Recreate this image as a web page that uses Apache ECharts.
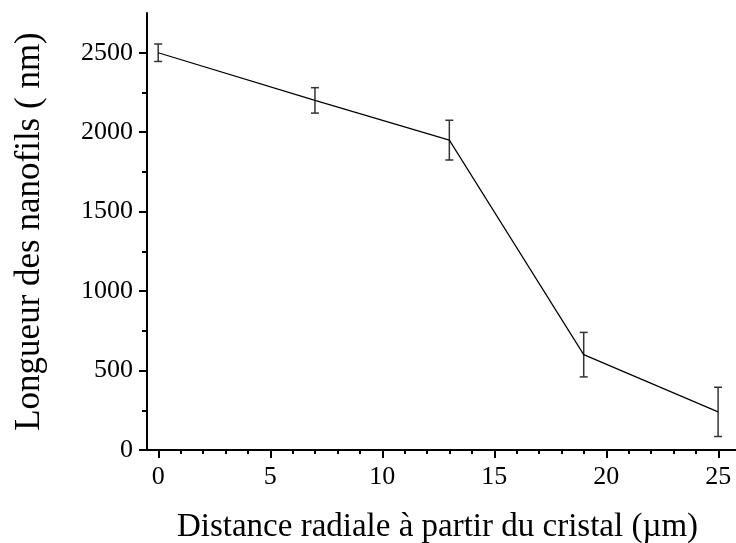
<!DOCTYPE html>
<html><head><meta charset="utf-8">
<script src="https://cdn.jsdelivr.net/npm/echarts@6/dist/echarts.min.js"></script>
<style>html,body{margin:0;padding:0;background:#fff}#c{width:736px;height:543px}</style>
</head><body><div id="c"></div>
<script>
var distances = [0, 7, 13, 19, 25];
var lengths = [2500, 2200, 1950, 600, 240];
var errors = [55, 80, 125, 140, 155];
var xTicks = [0, 5, 10, 15, 20, 25];
var yTicks = [0, 500, 1000, 1500, 2000, 2500];

var F = 'Liberation Serif, Times New Roman, serif';
var chart = echarts.init(document.getElementById('c'));
var lineData = distances.map(function (d, i) { return [d, lengths[i]]; });
var errData = distances.map(function (d, i) { return [d, lengths[i] - errors[i], lengths[i] + errors[i]]; });
var fmt = function (v) { return String(v); };

chart.setOption({
  animation: false,
  grid: [
    {left: 147, right: 0, top: 13, bottom: 93, outerBoundsMode: 'none', containLabel: false},
    {left: 158.3, right: 17.7, top: 13, bottom: 93, outerBoundsMode: 'none', containLabel: false},
    {left: 147, right: 0, top: 52.7, bottom: 93, outerBoundsMode: 'none', containLabel: false}
  ],
  xAxis: [
    {gridIndex: 0, type: 'value', min: -0.5, max: 25.8,
     axisLine: {show: true, onZero: false, lineStyle: {color: '#000', width: 2}},
     axisTick: {show: false}, axisLabel: {show: false}, splitLine: {show: false},
     name: 'Distance radiale à partir du cristal (µm)', nameLocation: 'middle', nameGap: 61,
     nameTextStyle: {fontFamily: F, fontSize: 33, color: '#000', padding: [0, 8, 0, 0]}},
    {gridIndex: 1, type: 'value', min: xTicks[0], max: xTicks[xTicks.length - 1], interval: 5,
     axisLine: {show: false, onZero: false},
     axisTick: {show: true, length: 8, lineStyle: {color: '#000', width: 2}},
     minorTick: {show: true, splitNumber: 5, length: 4, lineStyle: {color: '#000', width: 2}},
     axisLabel: {fontFamily: F, fontSize: 26, color: '#000', margin: 14, formatter: fmt},
     splitLine: {show: false}},
    {gridIndex: 2, type: 'value', show: false, min: 0, max: 1}
  ],
  yAxis: [
    {gridIndex: 0, type: 'value', min: 0, max: 2750,
     axisLine: {show: true, onZero: false, lineStyle: {color: '#000', width: 2}},
     axisTick: {show: false}, axisLabel: {show: false}, splitLine: {show: false},
     name: 'Longueur des nanofils ( nm)', nameLocation: 'middle', nameGap: 100,
     nameTextStyle: {fontFamily: F, fontSize: 35, color: '#000'}},
    {gridIndex: 1, type: 'value', show: false, min: 0, max: 1},
    {gridIndex: 2, type: 'value', min: yTicks[0], max: yTicks[yTicks.length - 1], interval: 500,
     axisLine: {show: false, onZero: false},
     axisTick: {show: true, length: 8, lineStyle: {color: '#000', width: 2}},
     minorTick: {show: true, splitNumber: 2, length: 5, lineStyle: {color: '#000', width: 2}},
     axisLabel: {fontFamily: F, fontSize: 26, color: '#000', margin: 14, formatter: fmt},
     splitLine: {show: false}}
  ],
  series: [
    {type: 'line', xAxisIndex: 0, yAxisIndex: 0, data: lineData, symbol: 'none',
     lineStyle: {color: '#000', width: 1.2}},
    {type: 'custom', xAxisIndex: 0, yAxisIndex: 0, data: errData,
     renderItem: function (params, api) {
       var x = api.value(0);
       var lo = api.coord([x, api.value(1)]);
       var hi = api.coord([x, api.value(2)]);
       var h = 4;
       var st = {stroke: '#333', lineWidth: 1.5, fill: null};
       return {type: 'group', children: [
         {type: 'line', shape: {x1: lo[0], y1: lo[1], x2: hi[0], y2: hi[1]}, style: st},
         {type: 'line', shape: {x1: lo[0] - h, y1: lo[1], x2: lo[0] + h, y2: lo[1]}, style: st},
         {type: 'line', shape: {x1: hi[0] - h, y1: hi[1], x2: hi[0] + h, y2: hi[1]}, style: st}
       ]};
     }}
  ]
});
</script></body></html>
